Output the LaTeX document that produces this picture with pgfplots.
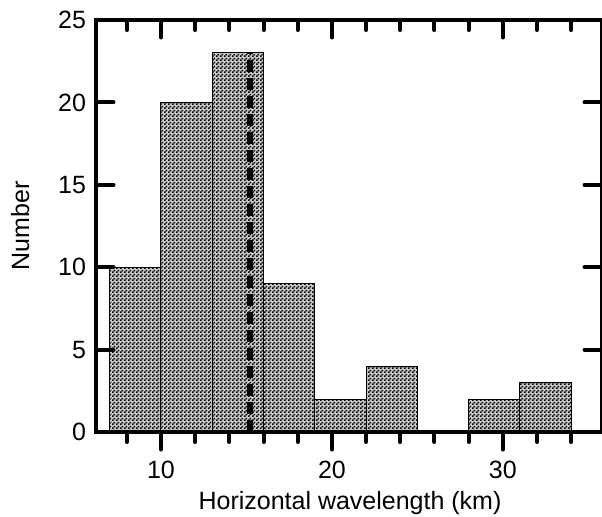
\documentclass[border=0pt]{standalone}
\usepackage{pgfplots}
\pgfplotsset{compat=1.18}
\usepackage{fontspec}
\setmainfont{Liberation Sans}
\usetikzlibrary{patterns}

% fine checkerboard like the printed halftone
\pgfdeclarepatternformonly{finechecker}{\pgfpointorigin}{\pgfqpoint{1.4pt}{1.4pt}}{\pgfqpoint{1.4pt}{1.4pt}}{%
  \pgfpathrectangle{\pgfpointorigin}{\pgfqpoint{0.7pt}{0.7pt}}%
  \pgfpathrectangle{\pgfqpoint{0.7pt}{0.7pt}}{\pgfqpoint{0.7pt}{0.7pt}}%
  \pgfusepath{fill}}

\pgfplotsset{
  common/.style={
    scale only axis, width=202.4pt, height=164.8pt,
    xmin=6.2, xmax=35.8, ymin=0, ymax=25,
    xtick={10,20,30}, ytick={0,5,10,15,20,25},
    minor xtick={8,12,14,16,18,22,24,26,28,32,34},
    axis line style={line width=1.8pt},
    every tick/.style={black, line width=1.6pt, line cap=round},
    major tick length=7pt, minor tick length=4pt,
    tick label style={font=\fontsize{10}{12}\selectfont},
    label style={font=\fontsize{11}{13}\selectfont},
    /pgf/number format/assume math mode=true,
  },
}

\begin{document}
\begin{tikzpicture}
\begin{axis}[common, name=ax,
  xtick pos=left, ytick pos=left,
  xtick align=outside, ytick align=inside,
  xlabel={Horizontal wavelength (km)}, ylabel={Number},
  every axis x label/.style={at={(axis description cs:0.502,-0.172)}, anchor=center},
  every axis y label/.style={at={(axis description cs:-0.150,0.5)}, rotate=90, anchor=center},
  xticklabel style={yshift=-1pt},
  yticklabel style={xshift=-0.5pt},
  axis on top,
]
\addplot[ybar interval, draw=black, line width=0.4pt, fill=gray!45,
  postaction={pattern=finechecker, pattern color=black}]
  coordinates {(7,10)(10,20)(13,23)(16,9)(19,2)(22,4)(25,0)(28,2)(31,3)(34,3)};
\addplot[black, line width=2.2pt, dash pattern=on 4.8pt off 2.4pt] coordinates {(15.2,0)(15.2,23)};
\end{axis}
\begin{axis}[common, overlay,
  xtick pos=right, ytick pos=right, tick align=inside,
  xticklabels={}, yticklabels={},
]
\end{axis}
\pgfresetboundingbox
\path ([xshift=-38.4pt,yshift=-33.6pt]ax.south west) rectangle ([yshift=8pt]ax.north east);
\end{tikzpicture}
\end{document}
